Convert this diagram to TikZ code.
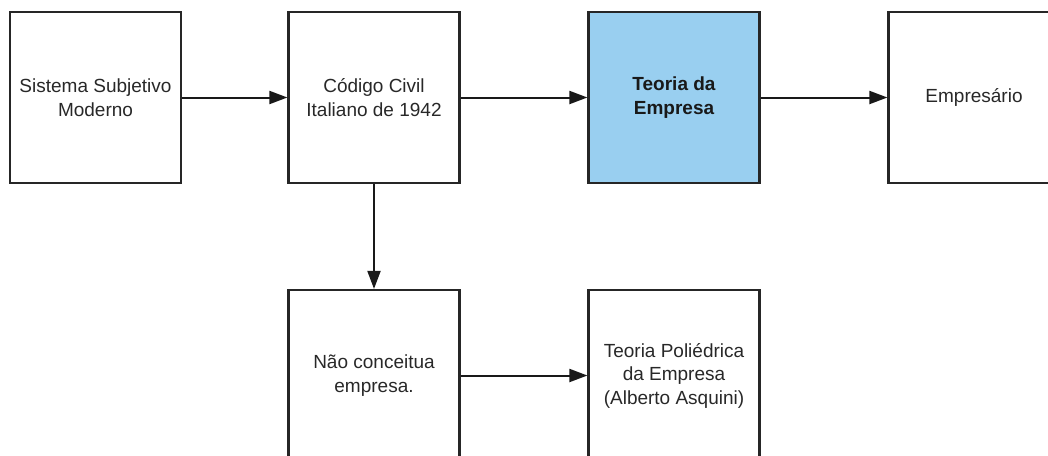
\documentclass[tikz,border=0pt]{standalone}
\usepackage{fontspec}
\setmainfont{Liberation Sans}
\usepackage{tikz}
\usetikzlibrary{arrows.meta,positioning}
\definecolor{boxBlue}{RGB}{153,207,240}
\definecolor{textGray}{RGB}{40,40,40}
\tikzset{
  stagebox/.style={draw=black!85,line width=2.2pt,minimum width=171pt,minimum height=171pt,
    inner sep=4pt,align=center,text=textGray,font=\fontsize{19}{23.5}\selectfont},
  flowarrow/.style={line width=2pt,draw=black!90,-{Triangle[length=18pt,width=13pt]}}
}
\begin{document}
\begin{tikzpicture}[x=1pt,y=-1pt]
        \useasboundingbox (0,0) rectangle (1048,455);
        % Top row
        \node[stagebox] (sist) at (95.5,97.5) {Sistema Subjetivo\\Moderno};
        \node[stagebox] (codigo) at (374,97.5) {Código Civil\\Italiano de 1942};
        \node[stagebox,fill=boxBlue,font=\fontsize{19}{23.5}\selectfont\bfseries,text=black!90] (teoria) at (674,97.5) {Teoria da\\Empresa};
        \node[stagebox] (empresario) at (974,97.5) {Empresário};
        % Bottom row
        \node[stagebox] (naoconc) at (374,375.5) {Não conceitua\\empresa.};
        \node[stagebox] (polied) at (674,375.5) {Teoria Poliédrica\\da Empresa\\(Alberto Asquini)};
        % Arrows
        \draw[flowarrow] (sist) -- (codigo);
        \draw[flowarrow] (codigo) -- (teoria);
        \draw[flowarrow] (teoria) -- (empresario);
        \draw[flowarrow] (codigo) -- (naoconc);
        \draw[flowarrow] (naoconc) -- (polied);
      \end{tikzpicture}
\end{document}
